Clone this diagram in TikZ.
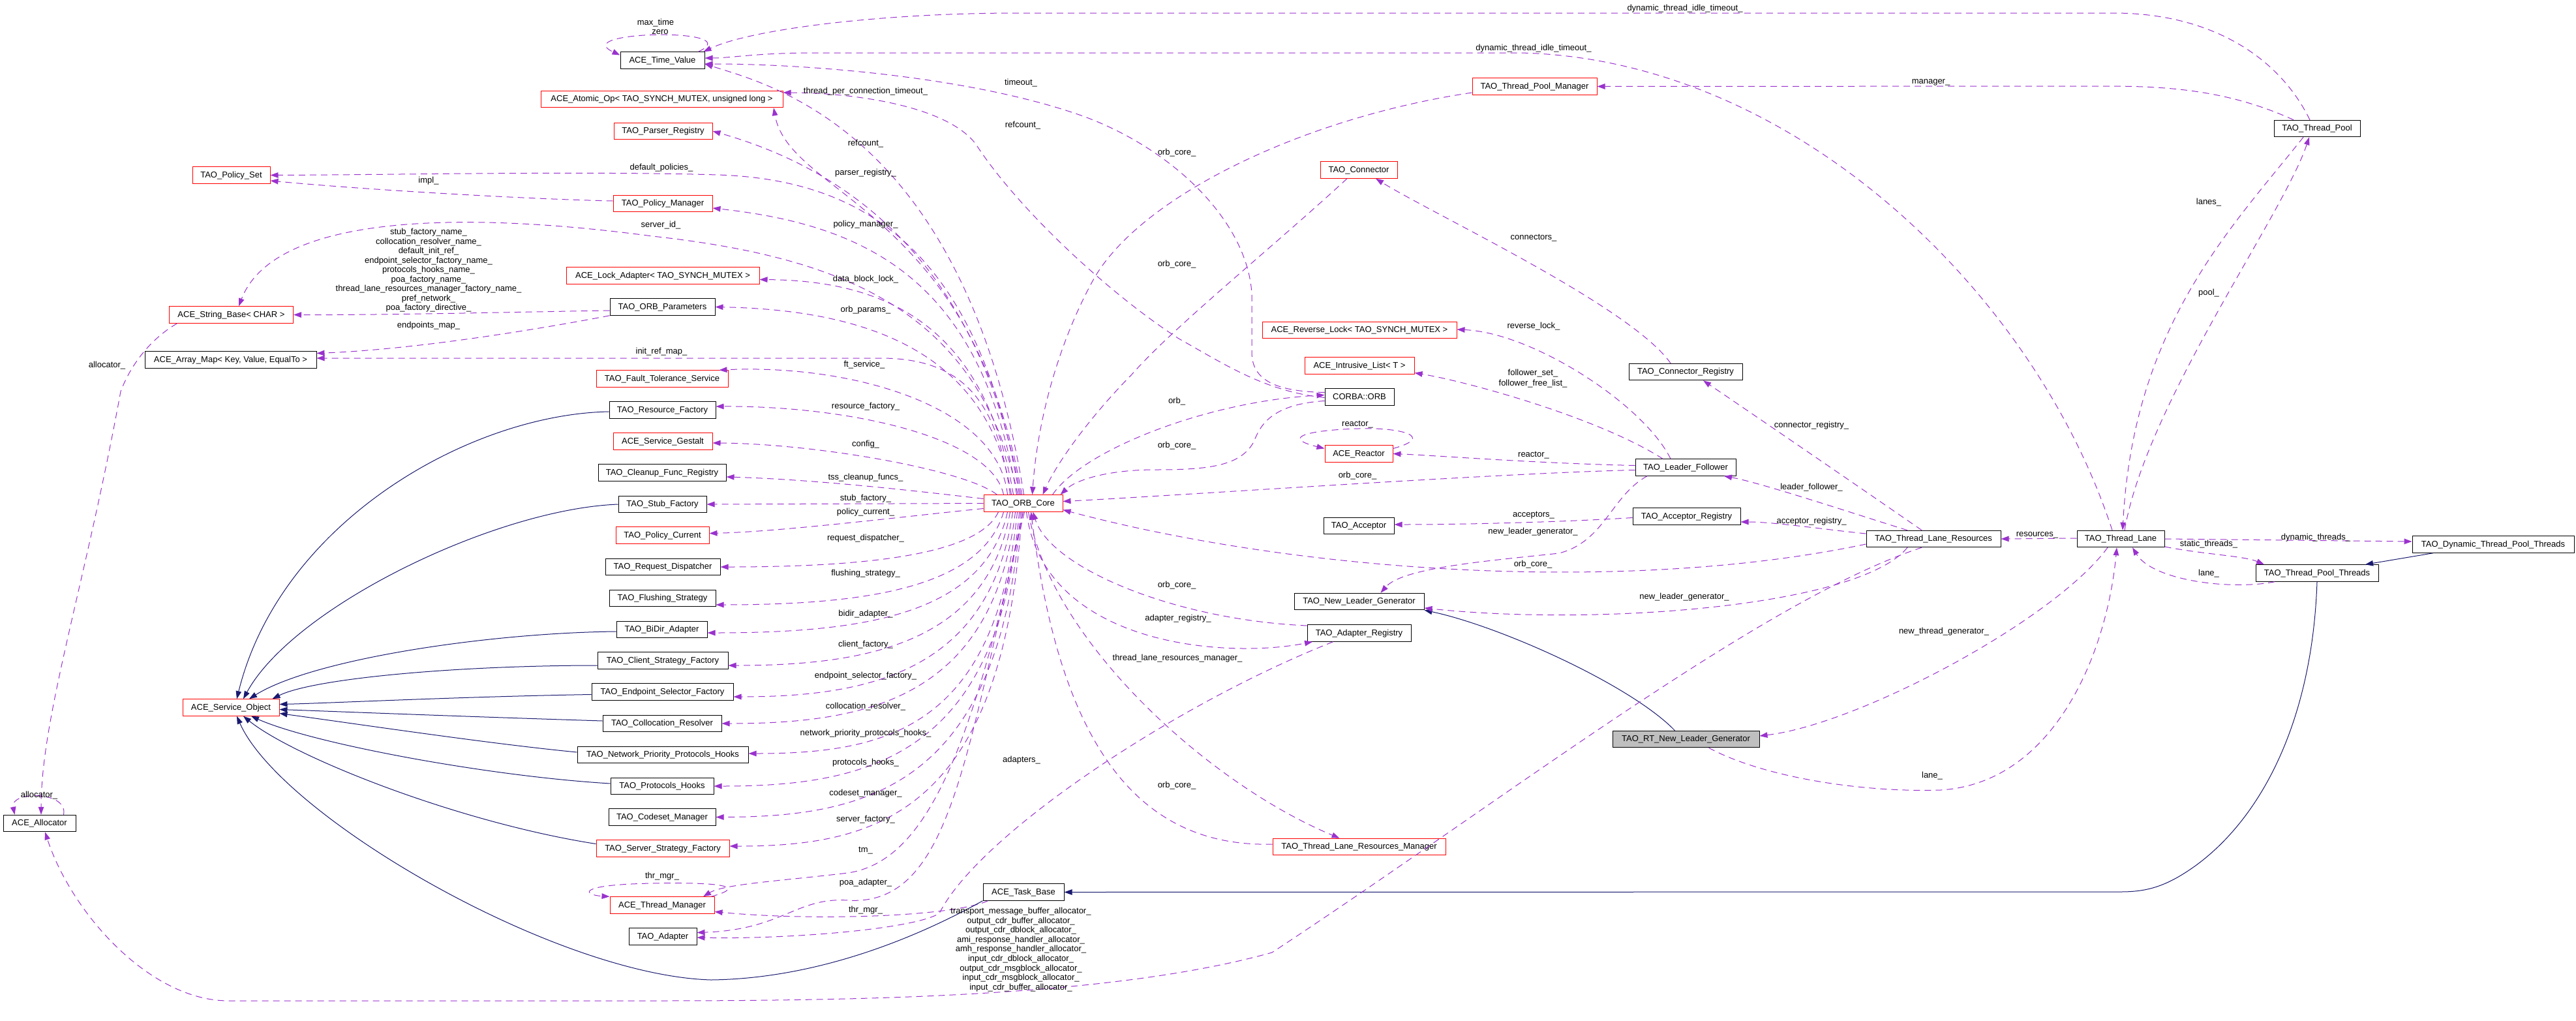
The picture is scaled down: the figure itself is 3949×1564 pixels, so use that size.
\documentclass[tikz,border=0pt]{standalone}
\usepackage{fontspec}
\setmainfont{Liberation Sans}
\usetikzlibrary{arrows.meta}
\definecolor{dxpurple}{HTML}{9A32CD}
\definecolor{dxnavy}{HTML}{191970}
\definecolor{dxgray}{HTML}{BFBFBF}
\newcommand\dxfont{\fontsize{13}{14.6}\selectfont}
\tikzset{
 cls/.style={draw=black, line width=1pt, font=\dxfont, inner xsep=0pt, inner ysep=0pt, minimum height=25.5pt, text height=9.5pt, text depth=2.5pt},
 redcls/.style={cls, draw=red},
 graycls/.style={cls, fill=dxgray},
 lbl/.style={font=\dxfont, inner sep=0pt, text height=9.5pt, text depth=2.5pt},
 dep/.style={draw=dxpurple, line width=1pt, dash pattern=on 10pt off 7pt, -{Triangle[length=12pt,width=8.5pt]}},
 selfdep/.style={dep},
 inh/.style={draw=dxnavy, line width=1pt, -{Triangle[length=12pt,width=8.5pt]}},
}
\begin{document}
\begin{tikzpicture}[x=1pt,y=-1pt]
\fill[white] (0,0) rectangle (3949,1564);
\useasboundingbox (0,0) rectangle (3949,1564);

% ---------------- nodes: central column ----------------
\node[cls, minimum width=129pt] (tv) at (1015.5,92.5) {ACE\_Time\_Value};
\node[redcls, minimum width=371pt] (atomic) at (1014.5,152) {ACE\_Atomic\_Op< TAO\_SYNCH\_MUTEX, unsigned long >};
\node[redcls, minimum width=151pt] (parser) at (1016.5,201) {TAO\_Parser\_Registry};
\node[redcls, minimum width=119pt] (pset) at (354.5,268.5) {TAO\_Policy\_Set};
\node[redcls, minimum width=152pt] (pmgr) at (1016,312) {TAO\_Policy\_Manager};
\node[redcls, minimum width=296pt] (lockad) at (1016,422.5) {ACE\_Lock\_Adapter< TAO\_SYNCH\_MUTEX >};
\node[cls, minimum width=161pt] (orbparams) at (1015.5,470.5) {TAO\_ORB\_Parameters};
\node[redcls, minimum width=190pt] (strbase) at (354.5,482.5) {ACE\_String\_Base< CHAR >};
\node[cls, minimum width=263pt] (arraymap) at (353.5,551.5) {ACE\_Array\_Map< Key, Value, EqualTo >};
\node[redcls, minimum width=202pt] (ftsvc) at (1015,580.5) {TAO\_Fault\_Tolerance\_Service};
\node[cls, minimum width=163pt] (resfac) at (1015.5,628.5) {TAO\_Resource\_Factory};
\node[redcls, minimum width=152pt] (gestalt) at (1016,676.5) {ACE\_Service\_Gestalt};
\node[cls, minimum width=196pt] (cleanup) at (1015,724.5) {TAO\_Cleanup\_Func\_Registry};
\node[cls, minimum width=135pt] (stubfac) at (1015.5,773) {TAO\_Stub\_Factory};
\node[redcls, minimum width=143pt] (polcur) at (1015.5,820.5) {TAO\_Policy\_Current};
\node[cls, minimum width=176pt] (reqdisp) at (1016,869) {TAO\_Request\_Dispatcher};
\node[cls, minimum width=163pt] (flush) at (1015.5,917) {TAO\_Flushing\_Strategy};
\node[cls, minimum width=139pt] (bidir) at (1014.5,965) {TAO\_BiDir\_Adapter};
\node[cls, minimum width=200pt] (clientsf) at (1016,1012.5) {TAO\_Client\_Strategy\_Factory};
\node[cls, minimum width=217pt] (epsel) at (1015.5,1060.5) {TAO\_Endpoint\_Selector\_Factory};
\node[cls, minimum width=182pt] (colloc) at (1015,1109) {TAO\_Collocation\_Resolver};
\node[cls, minimum width=262pt] (netprio) at (1016,1157) {TAO\_Network\_Priority\_Protocols\_Hooks};
\node[cls, minimum width=158pt] (prothooks) at (1015,1205) {TAO\_Protocols\_Hooks};
\node[cls, minimum width=164pt] (codeset) at (1015,1252.5) {TAO\_Codeset\_Manager};
\node[redcls, minimum width=204pt] (serversf) at (1016,1300.5) {TAO\_Server\_Strategy\_Factory};
\node[redcls, minimum width=160pt] (thrmgr) at (1015,1387.5) {ACE\_Thread\_Manager};
\node[cls, minimum width=104pt] (adapter) at (1016,1435.5) {TAO\_Adapter};
\node[cls, minimum width=124pt] (taskbase) at (1569,1367.5) {ACE\_Task\_Base};
\node[redcls, minimum width=148pt] (svcobj) at (354,1084.5) {ACE\_Service\_Object};
\node[cls, minimum width=111pt] (alloc) at (60.5,1262) {ACE\_Allocator};
\node[redcls, minimum width=121pt] (orbcore) at (1568.5,771.5) {TAO\_ORB\_Core};

% ---------------- nodes: right part ----------------
\node[redcls, minimum width=191pt] (tpm) at (2352.5,132.5) {TAO\_Thread\_Pool\_Manager};
\node[redcls, minimum width=118pt] (connector) at (2083,260.5) {TAO\_Connector};
\node[redcls, minimum width=298pt] (revlock) at (2084,506) {ACE\_Reverse\_Lock< TAO\_SYNCH\_MUTEX >};
\node[redcls, minimum width=168pt] (intrlist) at (2084,560.5) {ACE\_Intrusive\_List< T >};
\node[cls, minimum width=106pt] (corbaorb) at (2084,608.5) {CORBA::ORB};
\node[redcls, minimum width=104pt] (reactor) at (2083,695.5) {ACE\_Reactor};
\node[cls, minimum width=108pt] (acceptor) at (2083,806) {TAO\_Acceptor};
\node[cls, minimum width=199pt] (nlg) at (2083.5,922) {TAO\_New\_Leader\_Generator};
\node[cls, minimum width=159pt] (adreg) at (2083.5,970.5) {TAO\_Adapter\_Registry};
\node[redcls, minimum width=265pt] (tlrm) at (2083.5,1298) {TAO\_Thread\_Lane\_Resources\_Manager};
\node[cls, minimum width=174pt] (connreg) at (2584,570) {TAO\_Connector\_Registry};
\node[cls, minimum width=154pt] (lf) at (2584,716.5) {TAO\_Leader\_Follower};
\node[cls, minimum width=165pt] (accreg) at (2585.5,791.5) {TAO\_Acceptor\_Registry};
\node[graycls, minimum width=225pt] (rtnlg) at (2584.5,1133) {TAO\_RT\_New\_Leader\_Generator};
\node[cls, minimum width=206pt] (tlr) at (2964,826) {TAO\_Thread\_Lane\_Resources};
\node[cls, minimum width=132pt] (tpool) at (3552,197) {TAO\_Thread\_Pool};
\node[cls, minimum width=134pt] (tlane) at (3251,826) {TAO\_Thread\_Lane};
\node[cls, minimum width=248pt] (dtpt) at (3822,834.5) {TAO\_Dynamic\_Thread\_Pool\_Threads};
\node[cls, minimum width=188pt] (tpt) at (3552,878.5) {TAO\_Thread\_Pool\_Threads};

% ---------------- ORB_Core -> upper column ----------------
\draw[dep] ([xshift=1pt]orbcore.north) .. controls (1480,200) and (1180,130) .. ([yshift=-5.5pt]tv.east);
\draw[dep] ([xshift=-2pt]orbcore.north) .. controls (1490,320) and (1210,300) .. ([xshift=171.5pt]atomic.south);
\draw[dep] ([xshift=-4pt]orbcore.north) .. controls (1500,400) and (1300,260) .. (parser.east);
\draw[dep] ([xshift=-6pt]orbcore.north) .. controls (1500,380) and (1320,275) .. (1100,268) .. controls (900,262) and (600,268) .. (pset.east);
\draw[dep] ([xshift=-10pt]orbcore.north) .. controls (1505,430) and (1330,345) .. ([yshift=-7pt]pmgr.east);
\draw[dep] ([xshift=-8pt]orbcore.north) .. controls (1500,480) and (1300,395) .. (1000,362) .. controls (700,322) and (420,330) .. ([xshift=11.5pt]strbase.north);
\draw[dep] ([xshift=-15pt]orbcore.north) .. controls (1510,500) and (1360,430) .. ([yshift=-6pt]lockad.east);
\draw[dep] ([xshift=-18pt]orbcore.north) .. controls (1515,540) and (1330,475) .. (orbparams.east);
\draw[dep] ([xshift=-20pt]orbcore.north) .. controls (1530,620) and (1480,549) .. (1350,549) -- ([yshift=2.5pt]arraymap.east);
\draw[dep] ([xshift=-24pt]orbcore.north) .. controls (1530,620) and (1300,558) .. ([xshift=-14pt]ftsvc.north east);
\draw[dep] ([xshift=-30pt]orbcore.north) .. controls (1520,670) and (1300,622) .. ([yshift=5.5pt]resfac.east);
\draw[dep] ([xshift=-40pt]orbcore.north) .. controls (1480,720) and (1250,680) .. ([yshift=-2.5pt]gestalt.east);
\draw[dep] ([yshift=7pt]orbcore.west) .. controls (1400,752) and (1250,735) .. ([yshift=-6.5pt]cleanup.east);
\draw[dep] (orbcore.west) -- (stubfac.east);
\draw[dep] ([yshift=-8pt]orbcore.west) .. controls (1400,790) and (1200,815) .. ([yshift=3pt]polcur.east);

% ---------------- ORB_Core -> lower column ----------------
\draw[dep] ([xshift=-38pt]orbcore.south) .. controls (1500,850) and (1330,869) .. (reqdisp.east);
\draw[dep] ([xshift=-30pt]orbcore.south) .. controls (1505,900) and (1330,927) .. ([yshift=-10pt]flush.east);
\draw[dep] ([xshift=-24pt]orbcore.south) .. controls (1510,940) and (1330,970) .. ([yshift=-5pt]bidir.east);
\draw[dep] ([xshift=-20pt]orbcore.south) .. controls (1514,985) and (1330,1020) .. ([yshift=-7.5pt]clientsf.east);
\draw[dep] ([xshift=-16pt]orbcore.south) .. controls (1518,1030) and (1330,1068) .. ([yshift=-7.5pt]epsel.east);
\draw[dep] ([xshift=-12pt]orbcore.south) .. controls (1522,1070) and (1330,1109) .. (colloc.east);
\draw[dep] ([xshift=-9pt]orbcore.south) .. controls (1526,1115) and (1360,1155) .. ([yshift=2pt]netprio.east);
\draw[dep] ([xshift=-6pt]orbcore.south) .. controls (1530,1160) and (1330,1205) .. (prothooks.east);
\draw[dep] ([xshift=-4pt]orbcore.south) .. controls (1534,1205) and (1330,1252) .. (codeset.east);
\draw[dep] ([xshift=-2pt]orbcore.south) .. controls (1538,1250) and (1340,1297) .. ([yshift=3.5pt]serversf.east);
\draw[dep] (orbcore.south) .. controls (1490,1150) and (1420,1320) .. (1300,1338) .. controls (1200,1350) and (1110,1355) .. ([xshift=63pt]thrmgr.north);
\draw[dep] ([xshift=2pt]orbcore.south) .. controls (1480,1150) and (1460,1390) .. (1300,1380) .. controls (1220,1375) and (1200,1425) .. ([yshift=6pt]adapter.east);

% ---------------- left side small edges ----------------
\draw[dep] ([yshift=4pt]pmgr.west) .. controls (800,305) and (550,290) .. ([yshift=-8.5pt]pset.east);
\draw[dep] ([yshift=-5.5pt]orbparams.west) .. controls (800,478) and (600,483) .. (strbase.east);
\draw[dep] (orbparams.south west) .. controls (850,500) and (650,535) .. ([yshift=10pt]arraymap.east);
\draw[dep] ([xshift=-83pt]strbase.south) .. controls (230,520) and (200,560) .. (185,600) .. controls (130,900) and (63,1100) .. ([xshift=2.5pt]alloc.north);
\draw[selfdep] ([xshift=37pt]alloc.north) .. controls (105,1212) and (15,1212) .. ([xshift=-38pt]alloc.north);
\draw[selfdep] ([xshift=-10pt]tv.north east) .. controls (1150,42) and (870,47) .. ([yshift=8pt]tv.west);
\draw[selfdep] ([xshift=75pt]thrmgr.north) .. controls (1150,1358) and (1100,1352) .. (1000,1354) .. controls (880,1356) and (895,1372) .. (thrmgr.north west);
\draw[dep] ([xshift=8pt]taskbase.south west) .. controls (1460,1405) and (1250,1412) .. ([yshift=-10pt]thrmgr.east);

% ---------------- inheritance to ACE_Service_Object ----------------
\draw[inh] ([yshift=-2.5pt]resfac.west) .. controls (720,635) and (430,800) .. ([xshift=9pt]svcobj.north);
\draw[inh] (stubfac.west) .. controls (760,780) and (450,930) .. ([xshift=19pt]svcobj.north);
\draw[inh] ([yshift=-3pt]bidir.west) .. controls (750,970) and (480,1010) .. ([xshift=28pt]svcobj.north);
\draw[inh] ([yshift=-7.5pt]clientsf.west) .. controls (700,1020) and (480,1040) .. ([xshift=-11pt]svcobj.north east);
\draw[inh] ([yshift=-4pt]epsel.west) .. controls (700,1068) and (500,1078) .. ([yshift=5pt]svcobj.east);
\draw[inh] ([yshift=4pt]colloc.west) .. controls (700,1098) and (500,1090) .. ([yshift=-3pt]svcobj.east);
\draw[inh] ([yshift=4pt]netprio.west) .. controls (750,1140) and (550,1110) .. ([yshift=-9pt]svcobj.east);
\draw[inh] ([yshift=4pt]prothooks.west) .. controls (750,1190) and (480,1140) .. ([xshift=31pt]svcobj.south);
\draw[inh] ([yshift=7pt]serversf.west) .. controls (700,1260) and (450,1160) .. ([xshift=19pt]svcobj.south);
\draw[inh] (taskbase.south west) .. controls (1400,1440) and (1250,1500) .. (1090,1502) .. controls (850,1495) and (430,1250) .. ([xshift=9pt]svcobj.south);

% ---------------- Time_Value long edges ----------------
\draw[dep] ([xshift=-11pt]tpool.north) .. controls (3490,80) and (3380,20) .. (3240,20) -- (1560,20) .. controls (1350,20) and (1150,45) .. ([xshift=-2pt]tv.north east);
\draw[dep] ([xshift=-13pt]tlane.north) .. controls (3120,450) and (2750,90) .. (2330,81) -- (1250,81) .. controls (1160,81) and (1120,89) .. ([yshift=3.5pt]tv.east);
% timeout_ (CORBA::ORB -> ACE_Time_Value)
\draw[dep] ([yshift=7pt]corbaorb.west) .. controls (1960,600) and (1919,585) .. (1919,540) -- (1919,450) .. controls (1912,340) and (1800,230) .. (1663,179) .. controls (1500,120) and (1250,98) .. ([yshift=-5.5pt]tv.east);
% refcount_ (CORBA::ORB -> ACE_Atomic_Op)
\draw[dep] ([yshift=-1pt]corbaorb.west) .. controls (1940,600) and (1880,560) .. (1807,519) .. controls (1700,450) and (1560,320) .. (1496,221) .. controls (1450,160) and (1300,142) .. ([yshift=10pt]atomic.east);

% ---------------- edges into/out of ORB_Core (right) ----------------
\draw[dep] ([xshift=45pt]orbcore.north) .. controls (1660,690) and (1850,615) .. ([yshift=3pt]corbaorb.west);
\draw[dep] ([yshift=-6pt]corbaorb.west) .. controls (1940,620) and (1930,660) .. (1921,679) .. controls (1900,715) and (1850,720) .. (1771,720) .. controls (1700,720) and (1650,735) .. ([xshift=-4pt]orbcore.north east);
\draw[dep] ([yshift=-9.5pt]tpm.west) .. controls (2000,180) and (1750,300) .. (1677,427) .. controls (1620,530) and (1590,650) .. ([xshift=14pt]orbcore.north);
\draw[dep] ([xshift=-18pt]connector.south) .. controls (1950,380) and (1800,500) .. (1735,574) .. controls (1670,640) and (1620,710) .. ([xshift=30pt]orbcore.north);
\draw[dep] ([yshift=-4pt]lf.west) .. controls (2300,725) and (1800,760) .. ([yshift=3pt]orbcore.east);
\draw[dep] ([yshift=-8pt]tlr.west) .. controls (2500,910) and (2000,880) .. ([yshift=-10pt]orbcore.east);
\draw[dep] ([yshift=11.5pt]adreg.west) .. controls (1800,950) and (1610,870) .. ([xshift=15pt]orbcore.south);
\draw[dep] ([xshift=5pt]orbcore.south) .. controls (1600,990) and (1880,1010) .. ([xshift=-71.5pt]adreg.south);
\draw[dep] ([xshift=8pt]orbcore.south) .. controls (1610,980) and (1850,1200) .. ([xshift=-30pt]tlrm.north);
\draw[dep] ([yshift=4pt]tlrm.west) .. controls (1720,1300) and (1620,1100) .. ([xshift=12pt]orbcore.south);
\draw[dep] ([xshift=-40pt]adreg.south) .. controls (1800,1080) and (1500,1280) .. (1440,1400) .. controls (1400,1425) and (1200,1440) .. ([yshift=-1.5pt]adapter.east);

% ---------------- right cluster ----------------
\draw[dep] ([xshift=-36pt]tpool.north) .. controls (3420,140) and (3330,132) .. (3230,132) -- (tpm.east);
\draw[dep] ([xshift=-21pt]tpool.south) .. controls (3420,350) and (3270,500) .. ([xshift=3pt]tlane.north);
\draw[dep] ([xshift=6pt]tlane.north) .. controls (3290,620) and (3500,330) .. ([xshift=-12pt]tpool.south);
\draw[dep] ([yshift=1pt]tlane.west) -- (tlr.east);
\draw[dep] (tlane.east) -- ([yshift=4.5pt]dtpt.west);
\draw[dep] ([yshift=-12pt]tlane.east) .. controls (3380,850) and (3440,852) .. ([xshift=-81pt]tpt.north);
\draw[dep] ([xshift=-65pt]tpt.south) .. controls (3420,905) and (3300,890) .. ([xshift=18pt]tlane.south);
\draw[inh] ([xshift=-92pt]dtpt.south) -- ([xshift=74pt]tpt.north);
\draw[inh] (tpt.south) .. controls (3545,1100) and (3470,1250) .. (3367,1326) .. controls (3320,1360) and (3290,1367) .. (3250,1367) -- (taskbase.east);
\draw[dep] ([xshift=-20pt]tlane.south) .. controls (3150,950) and (2850,1110) .. ([yshift=5pt]rtnlg.east);
\draw[dep] ([xshift=35pt]rtnlg.south) .. controls (2700,1190) and (2850,1215) .. (2975,1211) .. controls (3150,1200) and (3230,1000) .. ([xshift=-6pt]tlane.south);
\draw[inh] ([xshift=-17pt]rtnlg.north) .. controls (2500,1050) and (2300,960) .. (nlg.south east);

\draw[dep] ([yshift=8pt]tlr.west) .. controls (2800,812) and (2720,800) .. ([yshift=-8.5pt]accreg.east);
\draw[dep] ([xshift=-40pt]tlr.north) .. controls (2850,790) and (2700,740) .. ([xshift=59pt]lf.south);
\draw[dep] ([xshift=-18pt]tlr.north) .. controls (2870,760) and (2680,630) .. ([xshift=27pt]connreg.south);
\draw[dep] ([xshift=-40pt]tlr.south) .. controls (2850,930) and (2450,960) .. ([yshift=-10pt]nlg.east);
\draw[dep] ([xshift=-18pt]tlr.south) .. controls (2700,920) and (2300,1230) .. (1950,1460) .. controls (1700,1530) and (1300,1534) .. (990,1534) -- (350,1534) .. controls (230,1534) and (110,1400) .. ([xshift=8.5pt]alloc.south);

\draw[dep] ([yshift=-2pt]accreg.west) .. controls (2400,800) and (2250,804) .. ([yshift=2pt]acceptor.east);
\draw[dep] ([xshift=-23pt]connreg.north) .. controls (2500,470) and (2200,330) .. ([xshift=26pt]connector.south);
\draw[dep] ([xshift=-23pt]lf.north) .. controls (2520,620) and (2350,510) .. ([yshift=1pt]revlock.east);
\draw[dep] ([xshift=-35pt]lf.north) .. controls (2450,640) and (2250,585) .. ([yshift=-11pt]intrlist.east);
\draw[dep] ([yshift=3pt]lf.west) .. controls (2350,710) and (2200,698) .. (reactor.east);
\draw[selfdep] ([yshift=8pt]reactor.east) .. controls (2200,670) and (2150,655) .. (2083,657) .. controls (2010,659) and (1960,670) .. ([yshift=8pt]reactor.west);
\draw[dep] ([xshift=-59pt]lf.south) .. controls (2470,760) and (2460,830) .. (2390,848) .. controls (2280,860) and (2150,870) .. ([xshift=33pt]nlg.north);

% ---------------- labels ----------------
\node[lbl] (lb01) at (1005,35) {max\_time};
\node[lbl] (lb02) at (1012,49) {zero};
\node[lbl] (lb03) at (2583,13) {dynamic\_thread\_idle\_timeout\_};
\node[lbl] (lb04) at (2351,74) {dynamic\_thread\_idle\_timeout\_};
\node[lbl] (lb05) at (2960,125) {manager\_};
\node[lbl] (lb06) at (1565,127) {timeout\_};
\node[lbl] (lb07) at (1327,140) {thread\_per\_connection\_timeout\_};
\node[lbl] (lb08) at (1568,192) {refcount\_};
\node[lbl] (lb09) at (1327,220) {refcount\_};
\node[lbl] (lb10) at (1804,234) {orb\_core\_};
\node[lbl] (lb11) at (1014,257) {default\_policies\_};
\node[lbl] (lb12) at (1327,265) {parser\_registry\_};
\node[lbl] (lb13) at (657,277) {impl\_};
\node[lbl] (lb14) at (3386,310) {lanes\_};
\node[lbl] (lb15) at (1327,344) {policy\_manager\_};
\node[lbl] (lb16) at (1013,345) {server\_id\_};
\foreach \t/\y [count=\i] in {stub\_factory\_name\_/356, collocation\_resolver\_name\_/370.5, default\_init\_ref\_/385, endpoint\_selector\_factory\_name\_/399.5, protocols\_hooks\_name\_/414, poa\_factory\_name\_/428.5, thread\_lane\_resources\_manager\_factory\_name\_/443, pref\_network\_/457.5, poa\_factory\_directive\_/472}
  \node[lbl] (stk\i) at (657,\y) {\t};
\node[lbl] (lb17) at (2351,364) {connectors\_};
\node[lbl] (lb18) at (1804,405) {orb\_core\_};
\node[lbl] (lb19) at (1327,428) {data\_block\_lock\_};
\node[lbl] (lb20) at (3386,449) {pool\_};
\node[lbl] (lb21) at (1327,475) {orb\_params\_};
\node[lbl] (lb22) at (657,498.5) {endpoints\_map\_};
\node[lbl] (lb23) at (2351,500) {reverse\_lock\_};
\node[lbl] (lb24) at (1014,539) {init\_ref\_map\_};
\node[lbl] (lb25) at (1325,559) {ft\_service\_};
\node[lbl] (lb26) at (164,560) {allocator\_};
\node[lbl] (lb27) at (2350,572) {follower\_set\_};
\node[lbl] (lb28) at (2350,588) {follower\_free\_list\_};
\node[lbl] (lb29) at (1804,615) {orb\_};
\node[lbl] (lb30) at (1327,623) {resource\_factory\_};
\node[lbl] (lb31) at (2081,650) {reactor\_};
\node[lbl] (lb32) at (2777,652) {connector\_registry\_};
\node[lbl] (lb33) at (1327,681) {config\_};
\node[lbl] (lb34) at (1804,683) {orb\_core\_};
\node[lbl] (lb35) at (2351,697) {reactor\_};
\node[lbl] (lb36) at (2081,729) {orb\_core\_};
\node[lbl] (lb37) at (1327,732) {tss\_cleanup\_funcs\_};
\node[lbl] (lb38) at (2777,747) {leader\_follower\_};
\node[lbl] (lb39) at (1327,764) {stub\_factory\_};
\node[lbl] (lb40) at (1327,785) {policy\_current\_};
\node[lbl] (lb41) at (2351,789) {acceptors\_};
\node[lbl] (lb42) at (2777,799) {acceptor\_registry\_};
\node[lbl] (lb43) at (2350,815) {new\_leader\_generator\_};
\node[lbl] (lb44) at (3123,819) {resources\_};
\node[lbl] (lb45) at (3550,824) {dynamic\_threads\_};
\node[lbl] (lb46) at (1327,825) {request\_dispatcher\_};
\node[lbl] (lb47) at (3386,834) {static\_threads\_};
\node[lbl] (lb48) at (2350,865) {orb\_core\_};
\node[lbl] (lb49) at (1327,879) {flushing\_strategy\_};
\node[lbl] (lb50) at (3386,879) {lane\_};
\node[lbl] (lb51) at (1804,897) {orb\_core\_};
\node[lbl] (lb52) at (2582,915) {new\_leader\_generator\_};
\node[lbl] (lb53) at (1327,941) {bidir\_adapter\_};
\node[lbl] (lb54) at (1806,948) {adapter\_registry\_};
\node[lbl] (lb55) at (2980,968) {new\_thread\_generator\_};
\node[lbl] (lb56) at (1327,988) {client\_factory\_};
\node[lbl] (lb57) at (1805,1009) {thread\_lane\_resources\_manager\_};
\node[lbl] (lb58) at (1327,1036) {endpoint\_selector\_factory\_};
\node[lbl] (lb59) at (1327,1083) {collocation\_resolver\_};
\node[lbl] (lb60) at (1327,1124) {network\_priority\_protocols\_hooks\_};
\node[lbl] (lb61) at (1566,1165) {adapters\_};
\node[lbl] (lb62) at (1327,1169) {protocols\_hooks\_};
\node[lbl] (lb63) at (2962,1189) {lane\_};
\node[lbl] (lb64) at (1804,1204) {orb\_core\_};
\node[lbl] (lb65) at (1327,1216) {codeset\_manager\_};
\node[lbl] (lb66) at (60,1219) {allocator\_};
\node[lbl] (lb67) at (1327,1256) {server\_factory\_};
\node[lbl] (lb68) at (1327,1303) {tm\_};
\node[lbl] (lb69) at (1015,1343) {thr\_mgr\_};
\node[lbl] (lb70) at (1327,1353) {poa\_adapter\_};
\node[lbl] (lb71) at (1327,1395) {thr\_mgr\_};
\foreach \t/\y [count=\i] in {transport\_message\_buffer\_allocator\_/1397, output\_cdr\_buffer\_allocator\_/1411.6, output\_cdr\_dblock\_allocator\_/1426.2, ami\_response\_handler\_allocator\_/1440.8, amh\_response\_handler\_allocator\_/1455.4, input\_cdr\_dblock\_allocator\_/1470, output\_cdr\_msgblock\_allocator\_/1484.6, input\_cdr\_msgblock\_allocator\_/1499.2, input\_cdr\_buffer\_allocator\_/1513.8}
  \node[lbl] (alc\i) at (1565,\y) {\t};
\end{tikzpicture}
\end{document}
